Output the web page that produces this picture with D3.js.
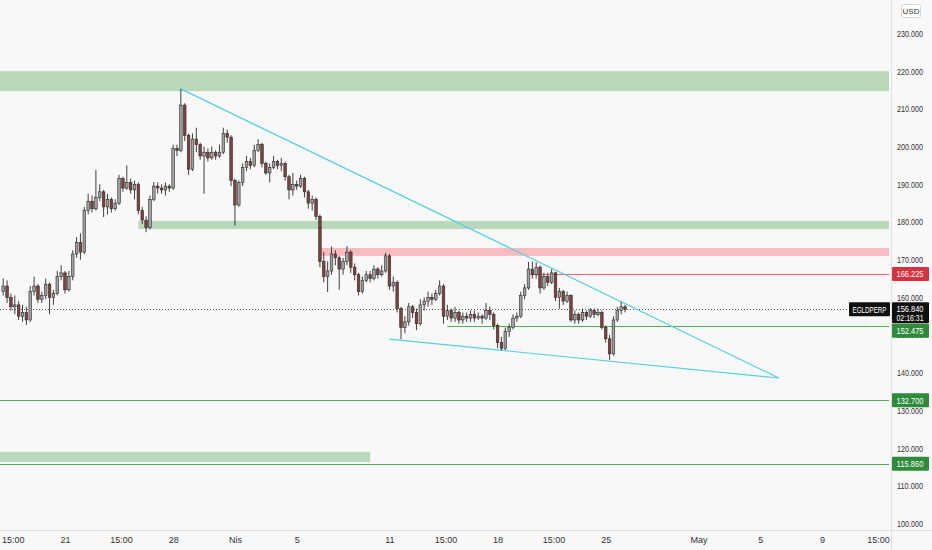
<!DOCTYPE html>
<html>
<head>
<meta charset="utf-8">
<script src="https://cdn.jsdelivr.net/npm/d3@7"></script>
<style>
  html, body { margin: 0; padding: 0; background: #f8f8f8; }
  svg { display: block; }
  text { font-family: "Liberation Sans", Arial, sans-serif; }
</style>
</head>
<body>
<div id="chart"></div>
<script>
// 6h candles, EGLDPERP, first candle 17 Mar 00:00 UTC
const firstCandle = Date.UTC(2023, 2, 17, 0, 0)
const firstOpen = 161.5
const closes = [
  163.0, 160.0, 157.5, 158.0, 155.0, 156.0, 154.0, 161.5, 163.0, 159.5,
  160.5, 163.5, 160.0, 161.0, 165.5, 166.5, 162.0, 165.5, 171.5, 174.5,
  172.0, 183.0, 185.5, 183.5, 186.5, 188.0, 184.0, 186.0, 183.5, 185.0,
  191.5, 189.0, 190.5, 188.5, 190.0, 183.0, 180.5, 178.5, 186.0, 189.5,
  189.0, 188.5, 189.5, 189.0, 199.5, 199.0, 211.0, 203.0, 194.0, 202.0,
  200.5, 197.5, 198.5, 197.0, 198.5, 197.5, 198.5, 203.5, 202.5, 191.0,
  184.5, 190.5, 194.5, 196.0, 195.0, 199.0, 200.5, 195.5, 193.0, 194.5,
  196.0, 195.0, 195.5, 192.0, 188.5, 190.0, 189.5, 191.5, 188.0, 185.0,
  186.0, 181.5, 169.5, 165.5, 167.0, 171.5, 170.5, 167.5, 169.5, 172.0,
  168.0, 166.0, 161.5, 164.5, 166.0, 165.0, 167.5, 166.0, 167.0, 171.0,
  163.0, 164.0, 157.0, 152.0, 153.5, 157.5, 156.0, 153.0, 158.0, 159.0,
  160.0, 159.5, 161.0, 163.0, 155.0, 156.5, 154.5, 156.0, 154.0, 155.0,
  154.5, 155.5, 154.5, 155.0, 154.5, 156.5, 155.5, 152.5, 148.0, 146.5,
  151.0, 152.0, 154.5, 155.0, 160.5, 162.5, 167.5, 166.0, 168.0, 162.5,
  165.5, 164.0, 166.5, 160.0, 161.5, 159.0, 160.5, 154.0, 155.5, 154.0,
  156.0, 155.0, 156.5, 155.5, 156.0, 152.0, 149.0, 145.0, 154.0, 156.5,
  157.5, 156.84
]
const highs = [
  165.0, 164.5, 161.0, 160.5, 159.0, 158.0, 157.5, 163.0, 165.5, 163.5,
  161.5, 165.0, 164.0, 162.0, 167.0, 168.5, 167.0, 167.0, 172.5, 176.0,
  177.0, 184.0, 187.5, 187.0, 193.8, 190.0, 188.5, 187.5, 186.5, 186.0,
  192.5, 192.0, 195.0, 191.5, 191.0, 190.5, 184.0, 181.5, 187.0, 190.6,
  190.5, 190.0, 190.5, 190.0, 200.5, 200.5, 215.3, 211.5, 203.5, 203.5,
  205.0, 201.0, 200.0, 199.5, 200.0, 199.0, 200.5, 205.0, 204.5, 203.0,
  191.5, 191.0, 195.5, 197.5, 197.0, 200.5, 202.0, 201.0, 196.0, 195.5,
  197.5, 196.5, 197.0, 196.0, 192.5, 193.0, 191.0, 192.5, 192.0, 188.5,
  187.0, 186.5, 182.0, 172.0, 169.5, 173.5, 172.5, 171.0, 170.5, 173.6,
  172.5, 169.0, 166.5, 165.5, 167.0, 167.0, 168.5, 168.0, 168.5, 171.8,
  171.5, 165.5, 164.5, 157.5, 155.0, 158.5, 158.0, 157.0, 159.5, 160.0,
  161.5, 161.0, 162.0, 164.5, 163.5, 158.0, 157.0, 157.5, 156.5, 156.0,
  156.0, 156.5, 156.5, 156.0, 155.5, 158.5, 157.5, 156.0, 153.0, 149.5,
  152.0, 153.0, 155.5, 156.0, 161.5, 163.5, 169.4, 169.5, 169.3, 168.5,
  166.5, 166.5, 167.5, 166.8, 162.5, 162.0, 161.5, 160.8, 156.5, 156.0,
  157.0, 156.5, 157.2, 157.0, 157.0, 156.5, 152.5, 150.0, 155.0, 157.5,
  158.8, 158.0
]
const lows = [
  160.5, 158.5, 156.5, 155.5, 154.0, 153.5, 152.7, 153.5, 160.5, 158.5,
  158.5, 159.5, 155.5, 158.0, 160.5, 164.5, 161.0, 161.5, 164.5, 170.5,
  170.0, 171.5, 182.0, 182.5, 183.0, 185.5, 181.3, 182.0, 182.5, 183.0,
  184.5, 188.0, 188.5, 187.5, 186.0, 182.0, 179.5, 177.3, 178.0, 185.5,
  187.5, 187.5, 187.0, 188.0, 188.5, 197.5, 198.5, 201.5, 192.5, 193.5,
  198.5, 196.5, 187.5, 196.0, 196.5, 196.5, 197.0, 198.0, 201.0, 189.5,
  179.0, 184.0, 189.5, 193.5, 194.0, 194.5, 198.5, 194.5, 192.5, 190.5,
  194.0, 194.0, 193.5, 191.0, 186.0, 187.0, 188.5, 189.0, 186.5, 183.5,
  183.0, 180.5, 168.0, 164.0, 161.4, 166.0, 168.5, 162.0, 166.0, 168.5,
  166.5, 164.5, 160.5, 161.0, 164.0, 164.0, 164.5, 165.0, 165.5, 166.5,
  162.0, 161.5, 156.0, 148.9, 150.5, 152.5, 154.5, 151.3, 152.5, 156.5,
  157.5, 158.0, 159.0, 160.5, 153.0, 154.0, 153.5, 153.5, 153.0, 153.0,
  153.5, 153.5, 153.5, 154.0, 153.0, 154.0, 154.0, 151.5, 146.5, 145.9,
  146.0, 149.5, 151.5, 153.5, 154.5, 159.5, 162.0, 165.0, 165.0, 161.0,
  162.0, 163.0, 163.5, 159.0, 157.0, 158.0, 158.5, 153.5, 153.0, 153.0,
  153.5, 154.0, 154.5, 154.5, 155.0, 151.5, 148.0, 143.4, 144.5, 153.5,
  155.5, 156.0
]

// horizontal zones (price bands)
const zoneFrom = ['2023-03-10T00:00Z', '2023-03-25T18:00Z', '2023-04-06T12:00Z', '2023-03-10T00:00Z']
const zoneTo = [null, null, null, '2023-04-09T18:00Z']
const zoneLow = [214.7, 178.1, 171.0, 116.3]
const zoneHigh = [220.0, 180.3, 173.1, 119.0]
const zoneKind = ['support', 'support', 'resistance', 'support']

// horizontal levels
const levelPrice = [166.225, 152.475, 132.7, 115.86]
const levelFrom = ['2023-04-20T06:00Z', '2023-04-14T18:00Z', '2023-03-10T00:00Z', '2023-03-10T00:00Z']
const levelKind = ['resistance', 'support', 'support', 'support']

// wedge trendlines
const trendUpper = [['2023-03-28T12:00Z', 215.3], ['2023-05-06T05:00Z', 138.6]]
const trendLower = [['2023-04-11T00:00Z', 148.9], ['2023-05-06T05:00Z', 138.6]]

const lastPrice = 156.84
const symbol = 'EGLDPERP'
const countdown = '02:16:31'

// time axis labels
const timeTicks = ['2023-03-17T15:00Z', '2023-03-21T00:00Z', '2023-03-24T15:00Z', '2023-03-28T00:00Z',
  '2023-04-01T00:00Z', '2023-04-05T00:00Z', '2023-04-11T00:00Z', '2023-04-14T15:00Z', '2023-04-18T00:00Z',
  '2023-04-21T15:00Z', '2023-04-25T00:00Z', '2023-05-01T00:00Z', '2023-05-05T00:00Z', '2023-05-09T00:00Z',
  '2023-05-12T15:00Z']
const timeLabels = ['15:00', '21', '15:00', '28', 'Nis', '5', '11', '15:00', '18', '15:00', '25', 'May', '5', '9', '15:00']
const priceTicks = d3.range(100, 231, 10)

const W = 932
const H = 550
const plotRight = 891
const plotBottom = 530
const fmt = d3.format('.3f')

const svg = d3.select('#chart').append('svg')
  .attr('width', W)
  .attr('height', H)

svg.append('rect').attr('width', W).attr('height', H).attr('fill', '#f8f8f8')

svg.append('defs').append('clipPath').attr('id', 'plot')
  .append('rect').attr('x', 0).attr('y', 0).attr('width', plotRight - 2).attr('height', plotBottom)

const x = d3.scaleUtc()
  .domain([new Date(Date.UTC(2023, 2, 21)), new Date(Date.UTC(2023, 4, 9))])
  .range([65, 822])

const y = d3.scaleLinear()
  .domain([100, 230])
  .range([523.5, 33.5])

const candles = closes.map((c, i) => ({
  t: new Date(firstCandle + i * 6 * 3600 * 1000),
  o: i === 0 ? firstOpen : closes[i - 1],
  h: highs[i],
  l: lows[i],
  c
}))

const plot = svg.append('g').attr('clip-path', 'url(#plot)')

// zones
const zoneColor = { support: '#b9d9ba', resistance: '#f8bcc0' }
zoneLow.forEach((lo, i) => {
  const x0 = x(new Date(zoneFrom[i]))
  const x1 = zoneTo[i] ? x(new Date(zoneTo[i])) : plotRight - 2
  plot.append('rect')
    .attr('x', x0)
    .attr('y', y(zoneHigh[i]))
    .attr('width', x1 - x0)
    .attr('height', y(lo) - y(zoneHigh[i]))
    .attr('fill', zoneColor[zoneKind[i]])
})

// levels
const levelColor = { support: '#4caf50', resistance: '#f0616d' }
levelPrice.forEach((p, i) => {
  plot.append('line')
    .attr('x1', x(new Date(levelFrom[i])))
    .attr('x2', plotRight - 2)
    .attr('y1', Math.round(y(p)) + 0.5)
    .attr('y2', Math.round(y(p)) + 0.5)
    .attr('stroke', levelColor[levelKind[i]])
    .attr('stroke-width', 1)
})

// last price dotted line
plot.append('line')
  .attr('x1', 0).attr('x2', 849)
  .attr('y1', Math.round(y(lastPrice)) + 0.5)
  .attr('y2', Math.round(y(lastPrice)) + 0.5)
  .attr('stroke', '#555')
  .attr('stroke-dasharray', '1,2')

// trendlines
const trendLine = d3.line()
  .x(d => x(new Date(d[0])))
  .y(d => y(d[1]))
;[trendUpper, trendLower].forEach(t => {
  plot.append('path')
    .datum(t)
    .attr('d', trendLine)
    .attr('fill', 'none')
    .attr('stroke', '#56cfe1')
    .attr('stroke-width', 1.2)
})

// candles
const cg = plot.append('g')
cg.selectAll('line.wick')
  .data(candles)
  .join('line')
  .attr('class', 'wick')
  .attr('x1', d => x(d.t))
  .attr('x2', d => x(d.t))
  .attr('y1', d => y(d.h))
  .attr('y2', d => y(d.l))
  .attr('stroke', '#2a2a2a')
  .attr('stroke-width', 0.9)

cg.selectAll('rect.body')
  .data(candles)
  .join('rect')
  .attr('class', 'body')
  .attr('x', d => x(d.t) - 1.3)
  .attr('width', 2.6)
  .attr('y', d => y(Math.max(d.o, d.c)))
  .attr('height', d => Math.max(0.8, Math.abs(y(d.o) - y(d.c))))
  .attr('fill', d => d.c >= d.o ? '#a3a3a3' : '#834040')
  .attr('stroke', '#2a2a2a')
  .attr('stroke-width', 0.6)

// axes borders
svg.append('line')
  .attr('x1', plotRight + 0.5).attr('x2', plotRight + 0.5)
  .attr('y1', 0).attr('y2', H)
  .attr('stroke', '#e0e0e0')
svg.append('line')
  .attr('x1', 0).attr('x2', W)
  .attr('y1', plotBottom + 0.5).attr('y2', plotBottom + 0.5)
  .attr('stroke', '#e0e0e0')

// price axis
const yAxis = svg.append('g')
  .attr('transform', `translate(${plotRight},0)`)
  .call(d3.axisRight(y).tickValues(priceTicks).tickFormat(fmt).tickSize(0).tickPadding(6))
yAxis.select('.domain').remove()
yAxis.selectAll('text')
  .attr('fill', '#333')
  .attr('font-size', 9)
  .attr('textLength', 26)
  .attr('lengthAdjust', 'spacingAndGlyphs')

// time axis
const xAxis = svg.append('g')
  .attr('transform', `translate(0,${plotBottom})`)
  .call(d3.axisBottom(x)
    .tickValues(timeTicks.map(d => new Date(d)))
    .tickFormat((d, i) => timeLabels[i])
    .tickSize(0)
    .tickPadding(7))
xAxis.select('.domain').remove()
xAxis.selectAll('text').attr('fill', '#333').attr('font-size', 9)

// price labels on axis (152.475 nudged below the last-price tag, as on the original)
const labelColor = { support: '#2e8b3a', resistance: '#d7323f' }
const labelShift = [0, 5, 0, 0]
levelPrice.forEach((p, i) => {
  const yy = y(p) + labelShift[i]
  svg.append('rect')
    .attr('x', plotRight + 1).attr('y', yy - 7)
    .attr('width', 37).attr('height', 14)
    .attr('rx', 1)
    .attr('fill', labelColor[levelKind[i]])
  svg.append('text')
    .attr('x', plotRight + 5.5).attr('y', yy + 3.5)
    .attr('fill', '#fff').attr('font-size', 9)
    .attr('textLength', 27)
    .attr('lengthAdjust', 'spacingAndGlyphs')
    .text(fmt(p))
})

// last price label + symbol tag
const yl = y(lastPrice)
svg.append('rect')
  .attr('x', plotRight + 1).attr('y', yl - 7)
  .attr('width', 37).attr('height', 21)
  .attr('rx', 1)
  .attr('fill', '#111')
svg.append('text')
  .attr('x', plotRight + 5.5).attr('y', yl + 3)
  .attr('fill', '#fff').attr('font-size', 9)
  .attr('textLength', 27)
  .attr('lengthAdjust', 'spacingAndGlyphs')
  .text(fmt(lastPrice))
svg.append('text')
  .attr('x', plotRight + 5.5).attr('y', yl + 12)
  .attr('fill', '#fff').attr('font-size', 8.5)
  .attr('textLength', 27)
  .attr('lengthAdjust', 'spacingAndGlyphs')
  .text(countdown)

svg.append('rect')
  .attr('x', 849).attr('y', yl - 7)
  .attr('width', 41).attr('height', 14)
  .attr('rx', 1)
  .attr('fill', '#111')
svg.append('text')
  .attr('x', 852.5).attr('y', yl + 3.5)
  .attr('fill', '#fff').attr('font-size', 9)
  .attr('textLength', 34)
  .attr('lengthAdjust', 'spacingAndGlyphs')
  .text(symbol)

// currency tag
svg.append('rect')
  .attr('x', 901.5).attr('y', 4.5)
  .attr('width', 19).attr('height', 13)
  .attr('rx', 2)
  .attr('fill', '#fff')
  .attr('stroke', '#d6d6d6')
svg.append('text')
  .attr('x', 911).attr('y', 14)
  .attr('text-anchor', 'middle')
  .attr('fill', '#333').attr('font-size', 8)
  .text('USD')
</script>
</body>
</html>
